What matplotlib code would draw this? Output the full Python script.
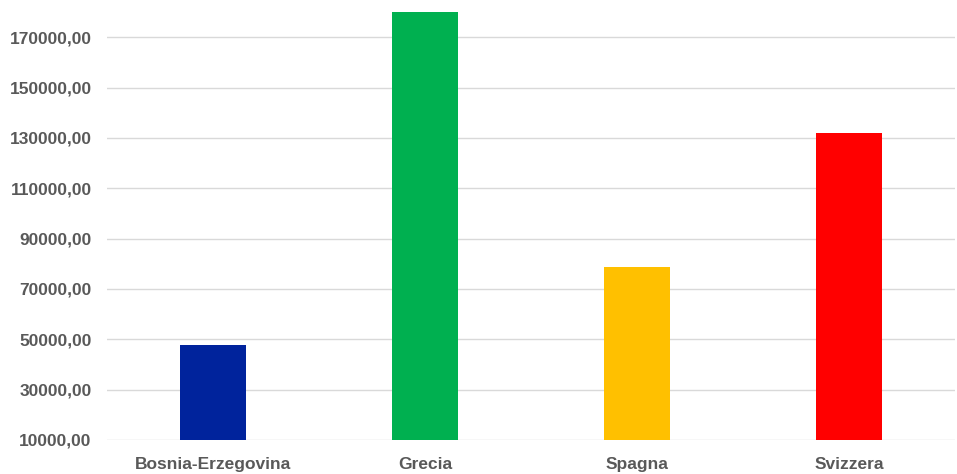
import matplotlib.pyplot as plt
from matplotlib.ticker import FuncFormatter

paesi = ["Bosnia-Erzegovina", "Grecia", "Spagna", "Svizzera"]
valori = [47700, 179900, 78800, 131800]
colori = ["#00239C", "#00B050", "#FFC000", "#FF0000"]
tick_y = [10000, 30000, 50000, 70000, 90000, 110000, 130000, 150000, 170000]

plt.rcParams['font.family'] = ['Liberation Sans', 'DejaVu Sans']

fig = plt.figure(figsize=(9.57, 4.74), dpi=100)
ax = fig.add_axes([107 / 957, 34 / 474, 848 / 957, 428 / 474])

x = range(len(paesi))
ax.bar(x, valori, width=0.31, color=colori, zorder=3)

ax.set_xlim(-0.5, len(paesi) - 0.5)
ax.set_ylim(10000, 180000)
ax.set_yticks(tick_y)
ax.yaxis.set_major_formatter(FuncFormatter(lambda v, p: f"{v:.2f}".replace(".", ",")))
ax.set_xticks(list(x))
ax.set_xticklabels(paesi)

ax.grid(axis='y', color='#D9D9D9', linewidth=1, zorder=0)
for s in ax.spines.values():
    s.set_visible(False)
ax.tick_params(axis='both', length=0, labelsize=12.5, labelcolor='#595959')
ax.tick_params(axis='y', pad=11)
ax.tick_params(axis='x', pad=12)
for lab in ax.get_xticklabels() + ax.get_yticklabels():
    lab.set_fontweight('bold')

fig.savefig("out.png", dpi=100)
